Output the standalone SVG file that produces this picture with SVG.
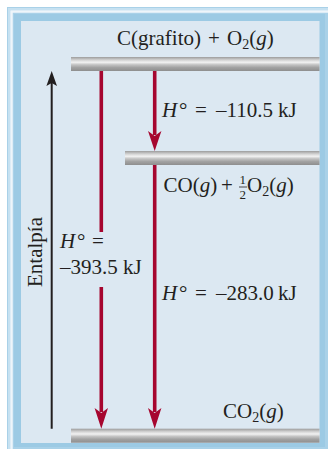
<svg xmlns="http://www.w3.org/2000/svg" width="329" height="452" viewBox="0 0 329 452">
  <defs>
    <linearGradient id="bar" x1="0" y1="0" x2="0" y2="1">
      <stop offset="0" stop-color="#9c9c9c"/>
      <stop offset="0.22" stop-color="#d4d4d4"/>
      <stop offset="0.38" stop-color="#f2f2f2"/>
      <stop offset="0.55" stop-color="#c4c4c4"/>
      <stop offset="0.75" stop-color="#a2a2a2"/>
      <stop offset="1" stop-color="#8e8e8e"/>
    </linearGradient>
  </defs>
  <style>
    text { font-family: "Liberation Serif", "Times New Roman", serif; font-size: 21px; fill: #231f20; }
    .it { font-style: italic; }
    .sub { font-size: 14px; }
    .frac { font-size: 13px; }
    .bar { fill: url(#bar); }
    .red { stroke: #a6062f; stroke-width: 3.6; fill: none; }
    .redhead { fill: #a6062f; }
  </style>

  <!-- frame -->
  <g id="frame">
    <rect x="7" y="7" width="321" height="442" fill="#a9d1e8"/>
    <path d="M9,449 V9 H328" fill="none" stroke="#c6e1f1" stroke-width="2"/>
    <path d="M11.5,449 V11.5 H328" fill="none" stroke="#eef5fa" stroke-width="2.5"/>
    <rect x="14" y="14" width="311" height="433" fill="#9ccae4"/>
    <rect x="21" y="21" width="298.5" height="422" fill="#dce8f2"/>
  </g>

  <!-- enthalpy axis -->
  <g id="axis">
    <line x1="51.7" y1="428.7" x2="51.7" y2="82" stroke="#231f20" stroke-width="2"/>
    <path d="M51.7,71 L57,86 L51.7,83 L46.4,86 Z" fill="#231f20"/>
    <text transform="translate(42,252) rotate(-90)" text-anchor="middle">Entalpía</text>
  </g>

  <g id="level-top">
    <rect class="bar" x="71" y="57" width="248.5" height="14"/>
    <text x="117" y="45">C(grafito)</text>
    <text x="208" y="45">+</text>
    <text x="227" y="45">O<tspan class="sub" dy="4">2</tspan><tspan dy="-4">(</tspan><tspan class="it">g</tspan>)</text>
  </g>

  <g id="level-mid">
    <rect class="bar" x="125" y="151" width="194.5" height="14"/>
    <text x="163.5" y="192">CO(<tspan class="it">g</tspan>)</text>
    <text x="221" y="192">+</text>
    <text class="frac" x="239.5" y="184">1</text>
    <line x1="239" y1="187" x2="247" y2="187" stroke="#231f20" stroke-width="0.8"/>
    <text class="frac" x="239.5" y="199">2</text>
    <text x="247" y="192">O<tspan class="sub" dy="4">2</tspan><tspan dy="-4">(</tspan><tspan class="it">g</tspan>)</text>
  </g>

  <g id="level-bottom">
    <rect class="bar" x="71" y="428.7" width="248.5" height="14"/>
    <text x="223" y="418">CO<tspan class="sub" dy="4">2</tspan><tspan dy="-4">(</tspan><tspan class="it">g</tspan>)</text>
  </g>

  <g id="connectors">
    <!-- direct: C + O2 -> CO2 -->
    <line class="red" x1="101.3" y1="71" x2="101.3" y2="232"/>
    <line class="red" x1="101.3" y1="287" x2="101.3" y2="412"/>
    <path class="redhead" d="M101.3,428.7 L94.6,408 L101.3,413 L108,408 Z"/>
    <!-- step 1 -->
    <line class="red" x1="154.7" y1="71" x2="154.7" y2="135"/>
    <path class="redhead" d="M154.7,151 L148,131 L154.7,136 L161.4,131 Z"/>
    <!-- step 2 -->
    <line class="red" x1="154.7" y1="165" x2="154.7" y2="412"/>
    <path class="redhead" d="M154.7,428.7 L148,408 L154.7,413 L161.4,408 Z"/>
  </g>

  <g id="labels">
    <text y="117"><tspan class="it" x="162">H</tspan><tspan x="179">°</tspan><tspan x="195">=</tspan><tspan x="216">–110.5</tspan><tspan x="278">kJ</tspan></text>
    <text y="248"><tspan class="it" x="60">H</tspan><tspan x="77">°</tspan><tspan x="92">=</tspan></text>
    <text x="60" y="274">–393.5 kJ</text>
    <text y="300"><tspan class="it" x="162">H</tspan><tspan x="179">°</tspan><tspan x="195">=</tspan><tspan x="216">–283.0</tspan><tspan x="278">kJ</tspan></text>
  </g>
</svg>
